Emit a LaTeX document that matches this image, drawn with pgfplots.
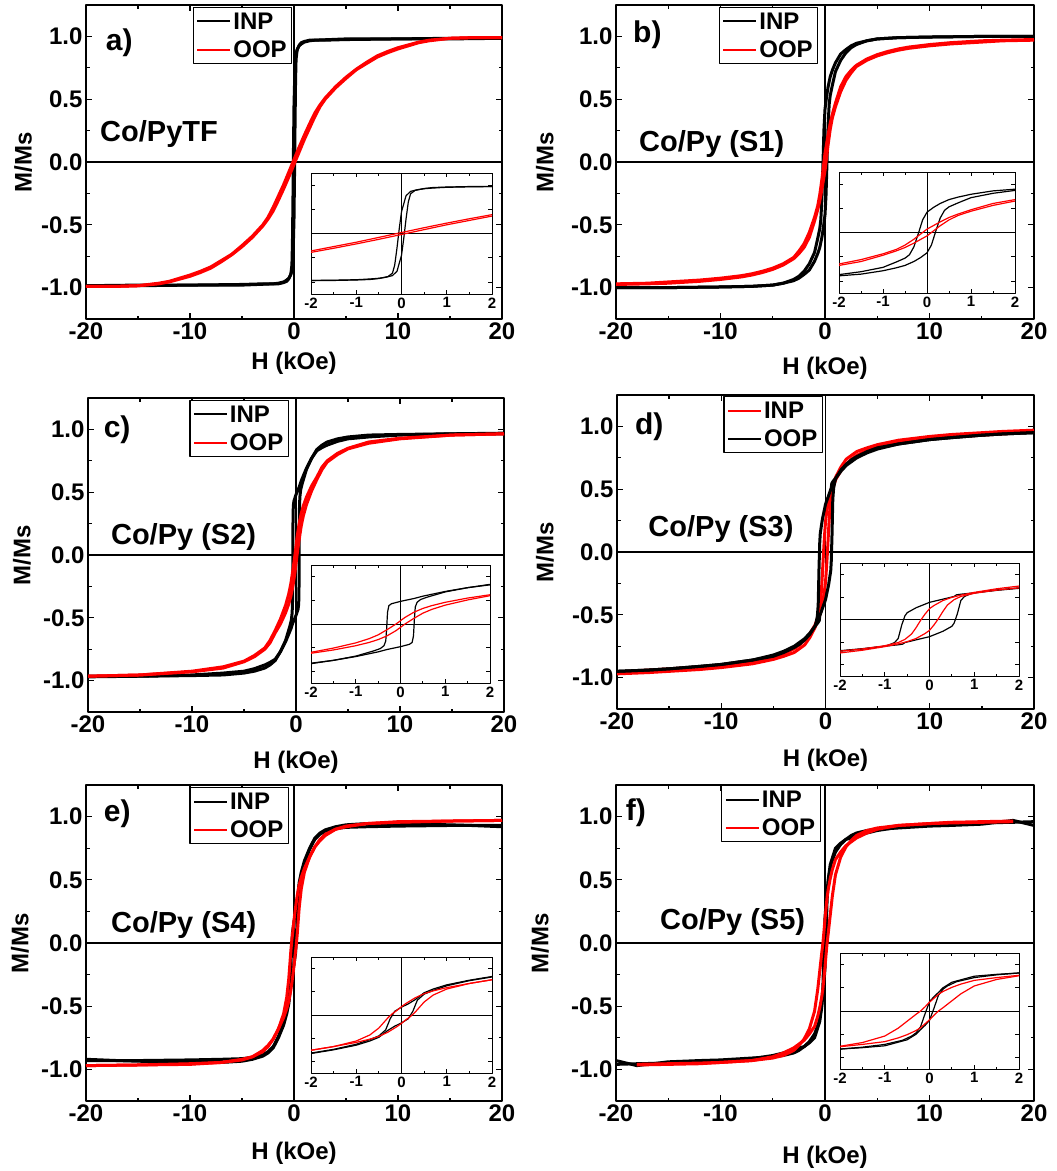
\documentclass[border=0pt]{standalone}
\usepackage{fontspec}
\setmainfont{Liberation Sans}
\usepackage{pgfplots}
\usepackage{pgfplotstable}
\pgfplotsset{compat=1.18}

% ---------- data: ascending branch (H in kOe, M/Ms); descending branch = point reflection ----------
\pgfplotstableread{
H M
-20 -0.985
-15 -0.98
-10 -0.98
-5 -0.975
-3 -0.97
-2 -0.97
-1.5 -0.965
-1 -0.955
-0.7 -0.94
-0.5 -0.925
-0.35 -0.905
-0.2 -0.87
-0.1 -0.78
0 -0.45
0.05 -0.1
0.1 0.3
0.15 0.65
0.2 0.82
0.3 0.89
0.5 0.93
0.7 0.95
1 0.96
1.5 0.97
2 0.97
5 0.98
10 0.98
15 0.985
20 0.985
}\aINP
\pgfplotstableread{
H M
-20 -0.99
-17 -0.99
-15 -0.985
-13 -0.97
-12 -0.955
-10 -0.91
-9 -0.88
-8 -0.845
-7 -0.795
-6 -0.74
-5 -0.675
-4 -0.6
-3 -0.51
-2.5 -0.455
-2 -0.39
-1.5 -0.305
-1 -0.215
-0.5 -0.12
0 -0.02
0.5 0.08
1 0.18
1.5 0.27
2 0.36
2.5 0.44
3 0.5
4 0.59
5 0.665
6 0.735
7 0.785
8 0.835
9 0.87
10 0.9
12 0.95
13 0.965
15 0.985
17 0.99
20 0.99
}\aOOP
\pgfplotstableread{
H M
-20 -1.0
-15 -1.0
-10 -0.995
-7 -0.99
-5 -0.98
-4 -0.965
-3 -0.945
-2.5 -0.925
-2 -0.895
-1.5 -0.86
-1 -0.79
-0.7 -0.73
-0.5 -0.68
-0.3 -0.6
-0.15 -0.52
0 -0.42
0.1 -0.26
0.2 0.03
0.3 0.3
0.4 0.46
0.5 0.53
0.7 0.61
1 0.72
1.5 0.81
2 0.87
2.5 0.91
3 0.935
4 0.965
5 0.98
7 0.99
10 0.995
15 1.0
20 1.0
}\bINP
\pgfplotstableread{
H M
-20 -0.975
-17 -0.97
-15 -0.965
-12 -0.95
-10 -0.935
-8 -0.915
-7 -0.9
-6 -0.88
-5 -0.855
-4 -0.82
-3 -0.77
-2.5 -0.73
-2 -0.68
-1.5 -0.6
-1 -0.47
-0.7 -0.38
-0.5 -0.31
-0.3 -0.22
-0.1 -0.12
0 -0.07
0.1 0.0
0.2 0.07
0.3 0.14
0.5 0.26
0.7 0.35
1 0.44
1.5 0.56
2 0.65
2.5 0.71
3 0.76
4 0.81
5 0.845
6 0.87
7 0.89
8 0.905
10 0.925
12 0.94
15 0.955
17 0.965
20 0.97
}\bOOP
\pgfplotstableread{
H M
-20 -0.97
-15 -0.965
-10 -0.955
-7 -0.94
-5 -0.925
-4 -0.905
-3 -0.875
-2.5 -0.855
-2 -0.83
-1.5 -0.77
-1 -0.69
-0.7 -0.63
-0.5 -0.59
-0.3 -0.54
0 -0.48
0.2 -0.43
0.26 -0.39
0.29 -0.25
0.31 0.1
0.33 0.36
0.37 0.46
0.45 0.52
0.6 0.57
1 0.68
1.5 0.77
2 0.84
2.5 0.875
3 0.9
4 0.925
5 0.94
7 0.955
10 0.96
15 0.965
20 0.965
}\cINP
\pgfplotstableread{
H M
-20 -0.965
-15 -0.955
-10 -0.93
-7 -0.9
-5 -0.85
-4 -0.81
-3 -0.75
-2.5 -0.7
-2 -0.62
-1.5 -0.55
-1 -0.46
-0.7 -0.39
-0.5 -0.33
-0.3 -0.25
-0.1 -0.14
0 -0.07
0.1 0.0
0.2 0.06
0.3 0.12
0.5 0.23
0.7 0.31
1 0.4
1.5 0.51
2 0.6
2.5 0.68
3 0.74
4 0.8
5 0.845
7 0.89
10 0.925
15 0.955
20 0.965
}\cOOP
\pgfplotstableread{
H M
-20 -0.97
-17 -0.96
-15 -0.95
-12 -0.935
-10 -0.92
-7 -0.89
-5 -0.855
-4 -0.83
-3 -0.8
-2.5 -0.77
-2 -0.74
-1.5 -0.68
-1 -0.6
-0.7 -0.54
-0.5 -0.49
-0.3 -0.42
-0.1 -0.31
0 -0.24
0.1 -0.12
0.2 0.02
0.3 0.18
0.4 0.32
0.55 0.44
0.7 0.51
1 0.58
1.5 0.65
2 0.7
2.5 0.74
3 0.77
4 0.81
5 0.84
7 0.87
10 0.9
12 0.915
15 0.93
17 0.94
20 0.955
}\dINP
\pgfplotstableread{
H M
-20 -0.95
-17 -0.94
-15 -0.93
-12 -0.91
-10 -0.895
-7 -0.86
-5 -0.82
-4 -0.79
-3 -0.75
-2.5 -0.72
-2 -0.69
-1.5 -0.645
-1 -0.59
-0.7 -0.56
-0.6 -0.545
-0.55 -0.51
-0.3 -0.45
0 -0.38
0.3 -0.26
0.5 -0.15
0.55 -0.08
0.62 0.12
0.7 0.42
0.78 0.51
0.9 0.56
1 0.59
1.5 0.655
2 0.7
2.5 0.735
3 0.76
4 0.8
5 0.83
7 0.86
10 0.895
12 0.91
15 0.93
17 0.94
20 0.95
}\dOOP
\pgfplotstableread{
H M
-20 -0.92
-17 -0.93
-15 -0.935
-12 -0.94
-10 -0.945
-7 -0.945
-5 -0.935
-4 -0.92
-3 -0.895
-2.5 -0.87
-2 -0.83
-1.5 -0.75
-1 -0.65
-0.7 -0.56
-0.5 -0.48
-0.3 -0.33
-0.15 -0.24
0 -0.17
0.15 -0.08
0.25 0.08
0.35 0.32
0.5 0.45
0.7 0.53
1 0.63
1.5 0.74
2 0.82
2.5 0.86
3 0.885
4 0.905
5 0.915
7 0.92
10 0.925
15 0.93
20 0.93
}\eINP
\pgfplotstableread{
H M
-20 -0.97
-15 -0.965
-10 -0.96
-7 -0.945
-5 -0.925
-4 -0.9
-3 -0.86
-2.5 -0.82
-2 -0.76
-1.5 -0.68
-1 -0.59
-0.7 -0.52
-0.5 -0.46
-0.3 -0.37
-0.1 -0.25
0 -0.18
0.1 -0.1
0.2 -0.03
0.3 0.06
0.4 0.17
0.5 0.28
0.7 0.43
1 0.56
1.5 0.68
2 0.76
2.5 0.81
3 0.85
4 0.9
5 0.92
7 0.945
10 0.955
15 0.965
20 0.97
}\eOOP
\pgfplotstableread{
H M
-20 -0.96
-18 -0.955
-15 -0.95
-12 -0.94
-10 -0.935
-7 -0.915
-5 -0.89
-4 -0.87
-3 -0.845
-2.5 -0.83
-2 -0.82
-1.5 -0.79
-1 -0.75
-0.5 -0.62
-0.3 -0.5
-0.2 -0.4
-0.1 -0.31
0 -0.2
0.1 0.06
0.2 0.34
0.3 0.47
0.4 0.54
0.6 0.63
1 0.72
1.5 0.78
2 0.82
2.5 0.85
3 0.87
4 0.89
5 0.9
7 0.91
10 0.925
12 0.93
15 0.94
17 0.96
18 0.97
19 0.95
20 0.93
}\fINP
\pgfplotstableread{
H M
-18 -0.965
-15 -0.96
-12 -0.955
-10 -0.945
-7 -0.93
-5 -0.9
-4 -0.87
-3 -0.83
-2.5 -0.8
-2 -0.77
-1.5 -0.72
-1 -0.66
-0.7 -0.58
-0.5 -0.51
-0.3 -0.42
-0.2 -0.36
0 -0.19
0.1 -0.09
0.2 0.0
0.3 0.07
0.5 0.22
0.7 0.37
1 0.54
1.5 0.68
2 0.76
2.5 0.81
3 0.85
4 0.89
5 0.91
7 0.93
10 0.945
12 0.95
15 0.955
18 0.96
}\fOOP

\newcommand{\loopplot}[2]{%
  \addplot[#1] table[x=H,y=M]{#2};
  \addplot[#1,forget plot] table[x expr=-\thisrow{H},y expr=-\thisrow{M}]{#2};
}

\pgfplotsset{
  mainax/.style={
    scale only axis, anchor=north west,
    xmin=-20, xmax=20, ymin=-1.25, ymax=1.25,
    xtick={-20,-10,0,10,20}, ytick={-1,-0.5,0,0.5,1},
    minor x tick num=1, minor y tick num=1,
    tick align=inside,
    major tick length=6pt, minor tick length=3.5pt,
    every tick/.style={line width=1.3pt, black},
    axis line style={line width=1.6pt},
    /pgf/number format/assume math mode=true,
    yticklabel style={/pgf/number format/fixed, /pgf/number format/fixed zerofill, /pgf/number format/precision=1},
    ticklabel style={font=\bfseries\fontsize{24}{24}\selectfont},
    label style={font=\bfseries\fontsize{24}{24}\selectfont},
    xlabel={H (kOe)}, ylabel={M/Ms},
    xlabel style={anchor=center}, ylabel style={anchor=center},
    legend style={anchor=north east, draw=black, line width=1.2pt,
      font=\bfseries\fontsize{24}{26}\selectfont, inner xsep=3pt, inner ysep=3pt,
      cells={anchor=west}, row sep=6pt},
    legend image code/.code={\draw[##1, line width=2pt] (0pt,0pt) -- (33pt,0pt);},
    line join=round,
  },
  inax/.style={
    scale only axis, anchor=north west,
    xmin=-2, xmax=2, ymin=-1.25, ymax=1.25,
    xtick={-2,-1,0,1,2}, ytick={-1,-0.5,0,0.5,1}, yticklabel=\empty,
    minor x tick num=1,
    tick align=inside,
    major tick length=4pt, minor tick length=2.5pt,
    every tick/.style={line width=0.8pt, black},
    axis line style={line width=1pt},
    /pgf/number format/assume math mode=true,
    ticklabel style={font=\bfseries\fontsize{15}{15}\selectfont},
    axis background/.style={fill=white},
    line join=round,
  },
}
\newcommand{\mainzero}{%
  \draw[line width=1.4pt] (axis cs:0,-1.25) -- (axis cs:0,1.25);
  \draw[line width=1.3pt] (axis cs:-20,0) -- (axis cs:20,0);}
\newcommand{\inzero}{%
  \draw[line width=0.9pt] (axis cs:0,-1.25) -- (axis cs:0,1.25);
  \draw[line width=0.9pt] (axis cs:-2,0) -- (axis cs:2,0);}
\newcommand{\plab}{\bfseries\fontsize{30}{30}\selectfont}
\newcommand{\slab}{\bfseries\fontsize{29}{29}\selectfont}

\begin{document}
\begin{tikzpicture}
\useasboundingbox (0pt,0pt) rectangle (1057pt,-1171pt);

% ---------------- a ----------------
\begin{axis}[mainax, at={(86pt,-5pt)}, width=416pt, height=314pt,
  xlabel style={at={(axis description cs:0.5,-0.140)}},
  ylabel style={at={(axis description cs:-0.151,0.5)}},
  legend style={at={(0.496,0.994)}}]
\mainzero
\loopplot{black,line width=3pt}{\aINP}
\loopplot{red,line width=3pt}{\aOOP}
\legend{INP,OOP}
\node[font=\plab] at (axis cs:-16.8,0.95) {a)};
\node[font=\slab, anchor=west, inner sep=0pt] at (axis cs:-18.65,0.22) {Co/PyTF};
\end{axis}
\begin{axis}[inax, at={(311pt,-173pt)}, width=181pt, height=121pt]
\inzero
\loopplot{black,line width=1.2pt}{\aINP}
\loopplot{red,line width=1.2pt}{\aOOP}
\end{axis}

% ---------------- b ----------------
\begin{axis}[mainax, at={(616pt,-5pt)}, width=418pt, height=314pt,
  xlabel style={at={(axis description cs:0.5,-0.156)}},
  ylabel style={at={(axis description cs:-0.170,0.5)}},
  legend style={at={(0.484,0.994)}}]
\mainzero
\loopplot{black,line width=3pt}{\bINP}
\loopplot{red,line width=3pt}{\bOOP}
\legend{INP,OOP}
\node[font=\plab] at (axis cs:-17.0,1.01) {b)};
\node[font=\slab, anchor=west, inner sep=0pt] at (axis cs:-17.8,0.14) {Co/Py (S1)};
\end{axis}
\begin{axis}[inax, at={(839pt,-172pt)}, width=176pt, height=121pt]
\inzero
\loopplot{black,line width=1.2pt}{\bINP}
\loopplot{red,line width=1.2pt}{\bOOP}
\end{axis}

% ---------------- c ----------------
\begin{axis}[mainax, at={(88pt,-398pt)}, width=416pt, height=314pt,
  xlabel style={at={(axis description cs:0.5,-0.159)}},
  ylabel style={at={(axis description cs:-0.159,0.5)}},
  legend style={at={(0.483,0.994)}}]
\mainzero
\loopplot{black,line width=3pt}{\cINP}
\loopplot{red,line width=3pt}{\cOOP}
\legend{INP,OOP}
\node[font=\plab] at (axis cs:-17.2,1.0) {c)};
\node[font=\slab, anchor=west, inner sep=0pt] at (axis cs:-17.8,0.14) {Co/Py (S2)};
\end{axis}
\begin{axis}[inax, at={(311pt,-565pt)}, width=179pt, height=118pt]
\inzero
\loopplot{black,line width=1.2pt}{\cINP}
\loopplot{red,line width=1.2pt}{\cOOP}
\end{axis}

% ---------------- d ----------------
\begin{axis}[mainax, at={(617pt,-395pt)}, width=417pt, height=314pt,
  xlabel style={at={(axis description cs:0.5,-0.162)}},
  ylabel style={at={(axis description cs:-0.173,0.5)}},
  legend style={at={(0.494,0.997)}}]
\mainzero
\loopplot{red,line width=3pt}{\dINP}
\loopplot{black,line width=3pt}{\dOOP}
\legend{INP,OOP}
\node[font=\plab] at (axis cs:-16.9,1.0) {d)};
\node[font=\slab, anchor=west, inner sep=0pt] at (axis cs:-17.0,0.18) {Co/Py (S3)};
\end{axis}
\begin{axis}[inax, at={(840pt,-563pt)}, width=179pt, height=113pt]
\inzero
\loopplot{black,line width=1.2pt}{\dOOP}
\loopplot{red,line width=1.2pt}{\dINP}
\end{axis}

% ---------------- e ----------------
\begin{axis}[mainax, at={(86pt,-785pt)}, width=416pt, height=316pt,
  xlabel style={at={(axis description cs:0.5,-0.165)}},
  ylabel style={at={(axis description cs:-0.159,0.5)}},
  legend style={at={(0.488,0.994)}}]
\mainzero
\loopplot{black,line width=3pt}{\eINP}
\loopplot{red,line width=3pt}{\eOOP}
\legend{INP,OOP}
\node[font=\plab] at (axis cs:-17.0,1.02) {e)};
\node[font=\slab, anchor=west, inner sep=0pt] at (axis cs:-17.6,0.14) {Co/Py (S4)};
\end{axis}
\begin{axis}[inax, at={(311pt,-957pt)}, width=181pt, height=116pt]
\inzero
\loopplot{black,line width=1.2pt}{\eINP}
\loopplot{red,line width=1.2pt}{\eOOP}
\end{axis}

% ---------------- f ----------------
\begin{axis}[mainax, at={(616pt,-785pt)}, width=418pt, height=316pt,
  xlabel style={at={(axis description cs:0.5,-0.177)}},
  ylabel style={at={(axis description cs:-0.182,0.5)}},
  legend style={at={(0.49,1.0)}}]
\mainzero
\loopplot{black,line width=3pt}{\fINP}
\loopplot{red,line width=3pt}{\fOOP}
\legend{INP,OOP}
\node[font=\plab] at (axis cs:-18.1,1.03) {f)};
\node[font=\slab, anchor=west, inner sep=0pt] at (axis cs:-15.8,0.17) {Co/Py (S5)};
\end{axis}
\begin{axis}[inax, at={(840pt,-953pt)}, width=179pt, height=116pt]
\inzero
\loopplot{black,line width=1.2pt}{\fINP}
\loopplot{red,line width=1.2pt}{\fOOP}
\end{axis}
\end{tikzpicture}
\end{document}
